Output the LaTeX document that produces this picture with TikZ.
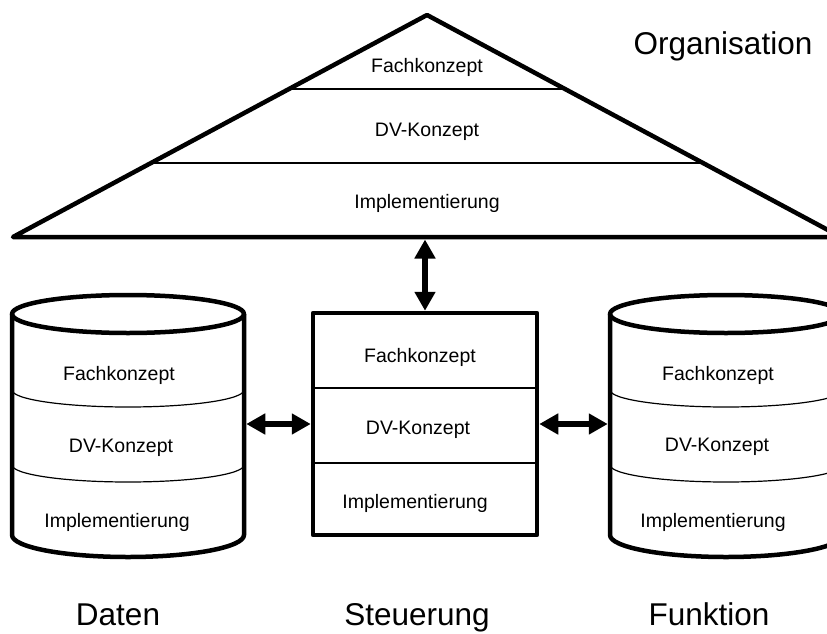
\documentclass[tikz,border=0pt]{standalone}
\usepackage{fontspec}
\setmainfont{Liberation Sans}
\usetikzlibrary{arrows.meta}
\tikzset{
  outline/.style={line width=4.5pt, line join=round},
  divider/.style={line width=1.2pt},
  lbl/.style={font=\fontsize{19.5}{20}\selectfont, inner sep=0pt},
  biglbl/.style={font=\fontsize{31.5}{32}\selectfont, inner sep=0pt, anchor=base},
  dblarrow/.style={line width=6.5pt, {Triangle[width=20pt,length=19pt]}-{Triangle[width=20pt,length=19pt]}},
  hitbox/.style={inner sep=0pt, outer sep=0pt, minimum width=236.5pt, minimum height=250pt},
  pics/cyl/.style={code={
    \draw[outline] (-116,-110) -- (-116,111) arc[start angle=180,end angle=0,x radius=116,y radius=22] -- (116,-110);
    \draw[outline] (0,-110) ellipse[x radius=116,y radius=19];
    \draw[divider] (-116,-34) arc[start angle=180,end angle=0,x radius=116,y radius=17];
    \draw[divider] (-116,41) arc[start angle=180,end angle=0,x radius=116,y radius=17];
  }}
}
\begin{document}
\begin{tikzpicture}[x=1pt,y=-1pt]
\useasboundingbox (0,0) rectangle (827,634);
\clip (0,0) rectangle (827,634);

% Organisation triangle
\draw[outline] (13,237) -- (427,15) -- (841,237) -- cycle;
\draw[divider] (289,89) -- (565,89);
\draw[divider] (151,163) -- (703,163);
\node[lbl] (of) at (427,67) {Fachkonzept};
\node[lbl] (od) at (427,132) {DV-Konzept};
\node[lbl] (oi) at (427,203) {Implementierung};
\coordinate (orgbase) at (425,239.5);
\node[biglbl] (orglabel) at (723,55) {Organisation};

% Steuerung box
\node[draw, outline, minimum width=224pt, minimum height=222pt, inner sep=0pt] (steu) at (425,424) {};
\draw[divider] (steu.west |- 0,388) -- (steu.east |- 0,388);
\draw[divider] (steu.west |- 0,463) -- (steu.east |- 0,463);
\node[lbl] (sf) at (420,357) {Fachkonzept};
\node[lbl] (sd) at (418,430) {DV-Konzept};
\node[lbl] (si) at (415,503) {Implementierung};

% Daten cylinder
\pic at (128,424) {cyl};
\node[hitbox] (daten) at (128,424) {};
\node[lbl] (df) at (119,375) {Fachkonzept};
\node[lbl] (dd) at (121,448) {DV-Konzept};
\node[lbl] (di) at (117,522) {Implementierung};

% Funktion cylinder
\pic at (726,424) {cyl};
\node[hitbox] (funk) at (726,424) {};
\node[lbl] (ff) at (718,375) {Fachkonzept};
\node[lbl] (fd) at (717,447) {DV-Konzept};
\node[lbl] (fi) at (713,522) {Implementierung};

% connectors
\draw[dblarrow] (orgbase) -- (steu.north);
\draw[dblarrow] (daten.east) -- (steu.west);
\draw[dblarrow] (steu.east) -- (funk.west);

% bottom labels
\node[biglbl] (ldaten) at (118,625) {Daten};
\node[biglbl] (lsteu) at (417,625) {Steuerung};
\node[biglbl] (lfunk) at (709,625) {Funktion};
\end{tikzpicture}
\end{document}
